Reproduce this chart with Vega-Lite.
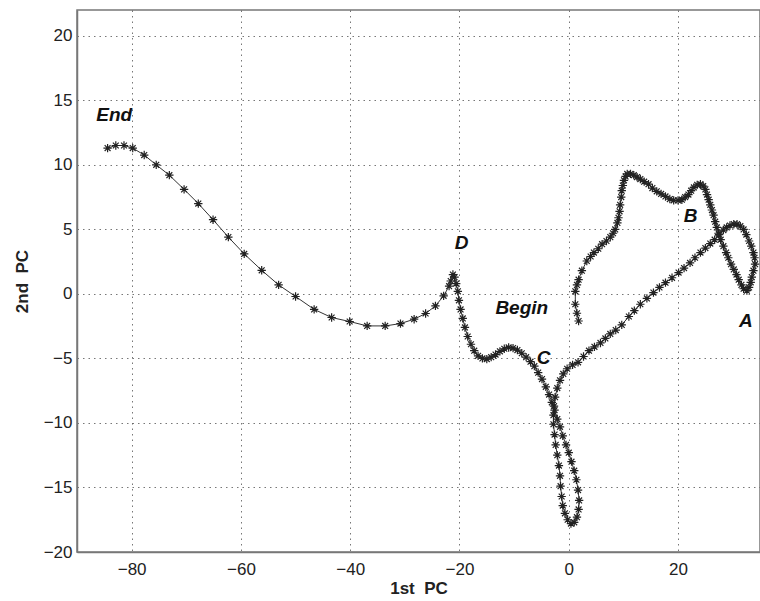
{
  "$schema": "https://vega.github.io/schema/vega-lite/v6.json",
  "width": 683,
  "height": 542,
  "autosize": {"type": "none"},
  "padding": {"left": 77, "top": 10, "right": 0, "bottom": 49},
  "background": "white",
  "config": {
    "view": {"stroke": "#777", "strokeWidth": 1.5},
    "font": "Liberation Sans",
    "axis": {
      "labelFont": "Liberation Sans",
      "titleFont": "Liberation Sans",
      "labelFontSize": 17,
      "labelColor": "#222",
      "titleFontSize": 17,
      "titleFontWeight": "bold",
      "titleColor": "#222",
      "ticks": false,
      "domainColor": "#777",
      "domainWidth": 1.5,
      "gridColor": "#555",
      "gridDash": [1.5, 4],
      "gridWidth": 1,
      "gridOpacity": 0.8
    }
  },
  "datasets": {
    "traj": [
      {"i":1,"x":1.8,"y":-2.1},{"i":2,"x":1.5,"y":-1.5},{"i":3,"x":1.2,"y":-0.8},{"i":4,"x":1.2,"y":0.2},{"i":5,"x":1.5,"y":0.7},
      {"i":6,"x":1.8,"y":1.1},{"i":7,"x":2.4,"y":1.8},{"i":8,"x":3.3,"y":2.55},{"i":9,"x":4.0,"y":2.9},{"i":10,"x":4.6,"y":3.2},
      {"i":11,"x":5.4,"y":3.5},{"i":12,"x":6.1,"y":3.85},{"i":13,"x":6.9,"y":4.1},{"i":14,"x":7.6,"y":4.4},{"i":15,"x":8.1,"y":4.7},
      {"i":16,"x":8.5,"y":5.0},{"i":17,"x":8.9,"y":5.5},{"i":18,"x":9.1,"y":5.9},{"i":19,"x":9.3,"y":6.4},{"i":20,"x":9.4,"y":6.9},
      {"i":21,"x":9.6,"y":7.5},{"i":22,"x":9.7,"y":8.0},{"i":23,"x":9.9,"y":8.4},{"i":24,"x":10.1,"y":8.8},{"i":25,"x":10.4,"y":9.1},
      {"i":26,"x":10.7,"y":9.3},{"i":27,"x":11.3,"y":9.3},{"i":28,"x":11.9,"y":9.2},{"i":29,"x":12.5,"y":9.05},{"i":30,"x":13.1,"y":8.9},
      {"i":31,"x":13.8,"y":8.7},{"i":32,"x":14.6,"y":8.5},{"i":33,"x":15.3,"y":8.2},{"i":34,"x":16.1,"y":7.95},{"i":35,"x":16.9,"y":7.75},
      {"i":36,"x":17.7,"y":7.55},{"i":37,"x":18.5,"y":7.35},{"i":38,"x":19.2,"y":7.25},{"i":39,"x":20.0,"y":7.25},{"i":40,"x":20.7,"y":7.3},
      {"i":41,"x":21.3,"y":7.5},{"i":42,"x":21.9,"y":7.7},{"i":43,"x":22.4,"y":8.0},{"i":44,"x":22.9,"y":8.25},{"i":45,"x":23.5,"y":8.45},
      {"i":46,"x":24.1,"y":8.5},{"i":47,"x":24.6,"y":8.35},{"i":48,"x":25.0,"y":8.1},{"i":49,"x":25.3,"y":7.7},{"i":50,"x":25.6,"y":7.3},
      {"i":51,"x":25.9,"y":6.9},{"i":52,"x":26.2,"y":6.5},{"i":53,"x":26.5,"y":6.1},{"i":54,"x":26.8,"y":5.6},{"i":55,"x":27.1,"y":5.15},
      {"i":56,"x":27.4,"y":4.7},{"i":57,"x":27.8,"y":4.2},{"i":58,"x":28.3,"y":3.7},{"i":59,"x":28.8,"y":3.2},{"i":60,"x":29.2,"y":2.8},
      {"i":61,"x":29.7,"y":2.3},{"i":62,"x":30.2,"y":1.9},{"i":63,"x":30.7,"y":1.5},{"i":64,"x":31.1,"y":1.1},{"i":65,"x":31.6,"y":0.7},
      {"i":66,"x":32.0,"y":0.4},{"i":67,"x":32.6,"y":0.25},{"i":68,"x":33.0,"y":0.5},{"i":69,"x":33.3,"y":0.9},{"i":70,"x":33.5,"y":1.3},
      {"i":71,"x":33.8,"y":1.8},{"i":72,"x":34.1,"y":2.3},{"i":73,"x":34.0,"y":2.8},{"i":74,"x":33.8,"y":3.2},{"i":75,"x":33.4,"y":3.7},
      {"i":76,"x":33.0,"y":4.1},{"i":77,"x":32.5,"y":4.6},{"i":78,"x":32.0,"y":5.0},{"i":79,"x":31.4,"y":5.25},{"i":80,"x":30.8,"y":5.4},
      {"i":81,"x":30.2,"y":5.4},{"i":82,"x":29.5,"y":5.3},{"i":83,"x":28.9,"y":5.15},{"i":84,"x":28.3,"y":4.95},{"i":85,"x":27.5,"y":4.6},
      {"i":86,"x":26.7,"y":4.2},{"i":87,"x":25.9,"y":3.9},{"i":88,"x":25.0,"y":3.55},{"i":89,"x":24.1,"y":3.2},{"i":90,"x":23.1,"y":2.8},
      {"i":91,"x":22.2,"y":2.4},{"i":92,"x":21.1,"y":2.0},{"i":93,"x":20.1,"y":1.65},{"i":94,"x":18.9,"y":1.25},{"i":95,"x":17.7,"y":0.87},
      {"i":96,"x":16.6,"y":0.5},{"i":97,"x":15.5,"y":0.1},{"i":98,"x":14.3,"y":-0.35},{"i":99,"x":13.1,"y":-0.8},{"i":100,"x":12.0,"y":-1.3},
      {"i":101,"x":11.0,"y":-1.75},{"i":102,"x":9.7,"y":-2.4},{"i":103,"x":8.6,"y":-2.8},{"i":104,"x":7.6,"y":-3.1},{"i":105,"x":6.7,"y":-3.45},
      {"i":106,"x":5.8,"y":-3.8},{"i":107,"x":4.7,"y":-4.1},{"i":108,"x":3.7,"y":-4.4},{"i":109,"x":2.7,"y":-4.85},{"i":110,"x":1.7,"y":-5.3},
      {"i":111,"x":0.7,"y":-5.5},{"i":112,"x":-0.3,"y":-5.8},{"i":113,"x":-1.0,"y":-6.2},{"i":114,"x":-1.6,"y":-6.7},{"i":115,"x":-2.1,"y":-7.3},
      {"i":116,"x":-2.5,"y":-8.0},{"i":117,"x":-2.7,"y":-8.7},{"i":118,"x":-2.8,"y":-9.4},{"i":119,"x":-2.8,"y":-10.1},{"i":120,"x":-2.6,"y":-10.9},
      {"i":121,"x":-2.4,"y":-11.7},{"i":122,"x":-2.1,"y":-12.5},{"i":123,"x":-1.8,"y":-13.3},{"i":124,"x":-1.6,"y":-14.1},{"i":125,"x":-1.5,"y":-14.9},
      {"i":126,"x":-1.3,"y":-15.7},{"i":127,"x":-1.1,"y":-16.4},{"i":128,"x":-0.7,"y":-17.0},{"i":129,"x":-0.2,"y":-17.5},{"i":130,"x":0.4,"y":-17.8},
      {"i":131,"x":1.0,"y":-17.7},{"i":132,"x":1.5,"y":-17.3},{"i":133,"x":1.8,"y":-16.7},{"i":134,"x":1.9,"y":-16.0},{"i":135,"x":1.7,"y":-15.2},
      {"i":136,"x":1.4,"y":-14.4},{"i":137,"x":1.0,"y":-13.7},{"i":138,"x":0.5,"y":-13.0},{"i":139,"x":0.0,"y":-12.3},{"i":140,"x":-0.5,"y":-11.7},
      {"i":141,"x":-1.1,"y":-11.0},{"i":142,"x":-1.6,"y":-10.3},{"i":143,"x":-2.1,"y":-9.7},{"i":144,"x":-2.6,"y":-9.0},{"i":145,"x":-3.1,"y":-8.4},
      {"i":146,"x":-3.6,"y":-7.8},{"i":147,"x":-4.2,"y":-7.2},{"i":148,"x":-4.9,"y":-6.6},{"i":149,"x":-5.6,"y":-6.1},{"i":150,"x":-6.3,"y":-5.6},
      {"i":151,"x":-7.0,"y":-5.25},{"i":152,"x":-7.8,"y":-4.9},{"i":153,"x":-8.6,"y":-4.6},{"i":154,"x":-9.4,"y":-4.35},{"i":155,"x":-10.2,"y":-4.2},
      {"i":156,"x":-11.0,"y":-4.15},{"i":157,"x":-11.8,"y":-4.25},{"i":158,"x":-12.6,"y":-4.45},{"i":159,"x":-13.4,"y":-4.7},{"i":160,"x":-14.2,"y":-4.9},
      {"i":161,"x":-15.0,"y":-5.05},{"i":162,"x":-15.8,"y":-5.0},{"i":163,"x":-16.6,"y":-4.8},{"i":164,"x":-17.3,"y":-4.4},{"i":165,"x":-17.9,"y":-3.9},
      {"i":166,"x":-18.5,"y":-3.3},{"i":167,"x":-19.0,"y":-2.6},{"i":168,"x":-19.4,"y":-1.9},{"i":169,"x":-19.8,"y":-1.2},{"i":170,"x":-20.1,"y":-0.5},
      {"i":171,"x":-20.3,"y":0.2},{"i":172,"x":-20.6,"y":0.8},{"i":173,"x":-20.9,"y":1.3},{"i":174,"x":-21.2,"y":1.5},{"i":175,"x":-21.6,"y":1.0},
      {"i":176,"x":-21.9,"y":0.6},{"i":177,"x":-22.9,"y":-0.15},{"i":178,"x":-24.4,"y":-0.93},{"i":179,"x":-26.2,"y":-1.52},{"i":180,"x":-28.3,"y":-1.96},
      {"i":181,"x":-30.8,"y":-2.3},{"i":182,"x":-33.6,"y":-2.48},{"i":183,"x":-36.9,"y":-2.48},{"i":184,"x":-40.1,"y":-2.14},{"i":185,"x":-43.4,"y":-1.83},
      {"i":186,"x":-46.6,"y":-1.2},{"i":187,"x":-50.0,"y":-0.2},{"i":188,"x":-53.1,"y":0.7},{"i":189,"x":-56.2,"y":1.83},{"i":190,"x":-59.4,"y":3.1},
      {"i":191,"x":-62.3,"y":4.4},{"i":192,"x":-65.1,"y":5.75},{"i":193,"x":-67.8,"y":7.0},{"i":194,"x":-70.4,"y":8.1},{"i":195,"x":-73.1,"y":9.2},
      {"i":196,"x":-75.5,"y":10.0},{"i":197,"x":-77.7,"y":10.76},{"i":198,"x":-79.8,"y":11.3},{"i":199,"x":-81.4,"y":11.5},{"i":200,"x":-82.9,"y":11.5},
      {"i":201,"x":-84.4,"y":11.3}
    ],
    "labels": [
      {"label":"End","x":-83.2,"y":13.9},
      {"label":"D","x":-19.6,"y":3.95},
      {"label":"Begin","x":-8.6,"y":-1.08},
      {"label":"C","x":-4.6,"y":-4.95},
      {"label":"B","x":22.3,"y":6.04},
      {"label":"A","x":32.4,"y":-2.1}
    ]
  },
  "layer": [
    {
      "data": {"name": "traj"},
      "mark": {"type": "line", "color": "#333", "strokeWidth": 1, "clip": true},
      "encoding": {
        "x": {"field": "x", "type": "quantitative", "scale": {"domain": [-90, 35], "nice": false, "zero": false},
          "axis": {"values": [-80, -60, -40, -20, 0, 20], "title": "1st\u00a0\u00a0PC", "labelPadding": 9, "titlePadding": 3, "grid": true}},
        "y": {"field": "y", "type": "quantitative", "scale": {"domain": [-20, 22], "nice": false, "zero": false},
          "axis": {"values": [-20, -15, -10, -5, 0, 5, 10, 15, 20], "title": "2nd\u00a0\u00a0PC", "labelPadding": 5, "titlePadding": 12, "grid": true}},
        "order": {"field": "i", "type": "quantitative"}
      }
    },
    {
      "data": {"name": "traj"},
      "mark": {"type": "point", "shape": "M-1,0L1,0M0,-1L0,1M-0.7,-0.7L0.7,0.7M-0.7,0.7L0.7,-0.7", "filled": false, "stroke": "#222", "strokeWidth": 1.2, "size": 70, "opacity": 1, "clip": true},
      "encoding": {
        "x": {"field": "x", "type": "quantitative"},
        "y": {"field": "y", "type": "quantitative"}
      }
    },
    {
      "data": {"name": "labels"},
      "mark": {"type": "text", "font": "Liberation Sans", "fontSize": 19, "fontWeight": "bold", "fontStyle": "italic", "color": "#111", "align": "center", "baseline": "middle"},
      "encoding": {
        "x": {"field": "x", "type": "quantitative"},
        "y": {"field": "y", "type": "quantitative"},
        "text": {"field": "label"}
      }
    }
  ]
}
